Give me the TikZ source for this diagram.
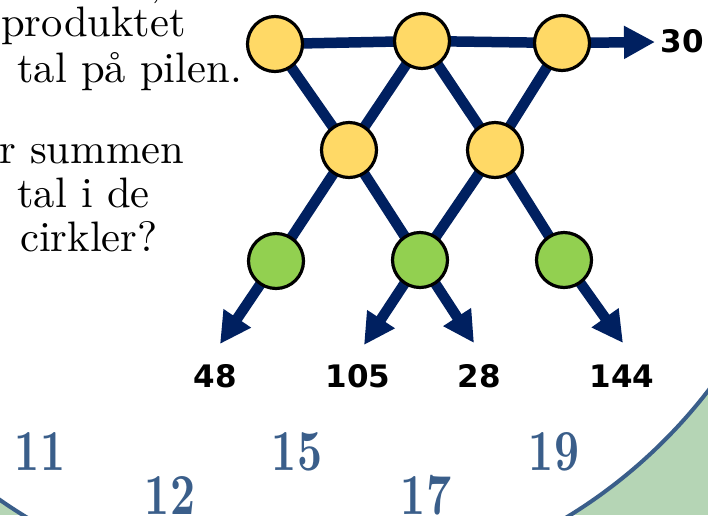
\documentclass[tikz,border=0pt]{standalone}
\usepackage{fontspec}
\usetikzlibrary{arrows.meta}
\newfontfamily\tallfont{DejaVu Sans}
\newfontfamily\brodfont{lmroman10-regular}[Extension=.otf,BoldFont=lmroman10-bold]
\definecolor{pilblaa}{RGB}{0,32,96}
\definecolor{gul}{RGB}{255,217,102}
\definecolor{groen}{RGB}{146,208,80}
\definecolor{lysgroen}{RGB}{181,213,181}
\definecolor{talblaa}{RGB}{58,94,138}
\pgfdeclarelayer{bund}
\pgfdeclarelayer{pile}
\pgfsetlayers{bund,pile,main}
\tikzset{
  gulcirkel/.style={circle,draw=black,line width=3.2pt,fill=gul,minimum size=55pt,inner sep=0pt},
  groencirkel/.style={gulcirkel,fill=groen},
  pil/.style={draw=pilblaa,line width=10.5pt,-{Triangle[length=31pt,width=31pt]}},
  resultat/.style={font=\tallfont\bfseries\fontsize{31}{36}\selectfont,inner sep=0pt},
  tekst/.style={font=\brodfont\fontsize{42.6}{46}\selectfont,anchor=base west,inner sep=0pt},
  urtal/.style={font=\brodfont\bfseries\fontsize{58}{64}\selectfont,text=talblaa,anchor=base,inner sep=0pt}
}
\newcommand{\smal}[1]{\scalebox{0.75}[1]{#1}}
\begin{document}
\begin{tikzpicture}[x=1pt,y=-1pt]
  \useasboundingbox (0,0) rectangle (708,515);
  \clip (0,0) rectangle (708,515);

  % baggrund
  \begin{pgfonlayer}{bund}
    \fill[lysgroen] (0,0) rectangle (708,515);
    \draw[talblaa,line width=4pt,fill=white] (296.6,72.8) circle[radius=520];
  \end{pgfonlayer}

  % tekst
  \node[tekst] (komma) at (150,-5) {,};
  \node[tekst] (linje1) at (1,36) {produktet};
  \node[tekst] (linje2) at (17,82) {tal på pilen.};
  \node[tekst] (linje3) at (-1,163) {r summen};
  \node[tekst] (linje4) at (17,207) {tal i de};
  \node[tekst] (linje5) at (20,251) {cirkler?};

  % cirkler
  \node[gulcirkel] (t1) at (275,44) {};
  \node[gulcirkel] (t2) at (422,41) {};
  \node[gulcirkel] (t3) at (562,43) {};

  \node[gulcirkel] (m1) at (349,150) {};
  \node[gulcirkel] (m2) at (495,150) {};

  \node[groencirkel] (g1) at (276,261) {};
  \node[groencirkel] (g2) at (420,260) {};
  \node[groencirkel] (g3) at (564,260) {};

  % pilespidser
  \coordinate (s30) at (655,42);
  \coordinate (s48) at (220,344);
  \coordinate (s105) at (364,345);
  \coordinate (s28) at (474,343);
  \coordinate (s144) at (623,343);

  \begin{pgfonlayer}{pile}
    \path[pil] (t1.center) -- (t2.center) -- (t3.center) -- (s30);
    \path[pil] (t2.center) -- (m1.center) -- (g1.center) -- (s48);
    \path[pil] (t3.center) -- (m2.center) -- (g2.center) -- (s105);
    \path[pil] (t1.center) -- (m1.center) -- (g2.center) -- (s28);
    \path[pil] (t2.center) -- (m2.center) -- (g3.center) -- (s144);
  \end{pgfonlayer}

  % produkter
  \node[resultat] (l30) at (682,41) {30};
  \node[resultat] (l48) at (215,376) {48};
  \node[resultat] (l105) at (358,376) {105};
  \node[resultat] (l28) at (479,376) {28};
  \node[resultat] (l144) at (622,376) {144};

  % tal på skiven
  \node[urtal] (n11) at (40,470) {\smal{11}};
  \node[urtal] (n15) at (297,470) {\smal{15}};
  \node[urtal] (n19) at (554,470) {\smal{19}};
  \node[urtal] (n12) at (170,514) {\smal{12}};
  \node[urtal] (n17) at (426,514) {\smal{17}};
\end{tikzpicture}
\end{document}
